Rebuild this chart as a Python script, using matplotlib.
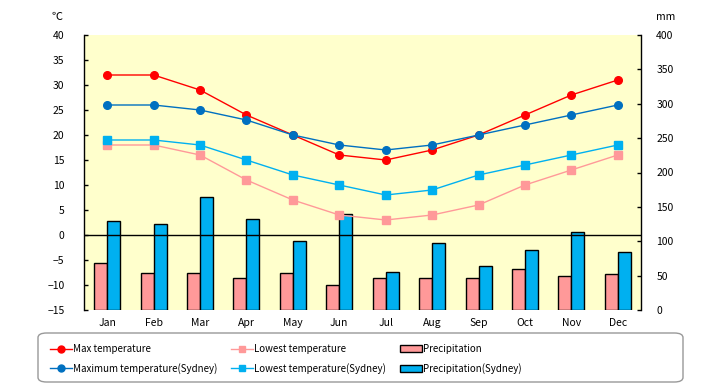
import numpy as np
import matplotlib as mpl
import matplotlib.pyplot as plt
from matplotlib.lines import Line2D
from matplotlib.patches import Patch, FancyBboxPatch

mpl.rcParams.update({
    "font.family": ["Noto Sans CJK JP", "DejaVu Sans"],
    "font.size": 7.5,
    "axes.unicode_minus": True,
})

# ===== DATA =====
months = ["Jan", "Feb", "Mar", "Apr", "May", "Jun",
          "Jul", "Aug", "Sep", "Oct", "Nov", "Dec"]
max_temp = [32, 32, 29, 24, 20, 16, 15, 17, 20, 24, 28, 31]
low_temp = [18, 18, 16, 11, 7, 4, 3, 4, 6, 10, 13, 16]
max_syd = [26, 26, 25, 23, 20, 18, 17, 18, 20, 22, 24, 26]
low_syd = [19, 19, 18, 15, 12, 10, 8, 9, 12, 14, 16, 18]
precip = [68, 54, 54, 47, 54, 37, 47, 47, 47, 59, 50, 52]
precip_syd = [130, 125, 164, 132, 100, 139, 55, 98, 64, 87, 114, 84]

# Colors
CLR_MAX = "#FF0000"
CLR_LOW = "#FF9999"
CLR_MAXS = "#0070C0"
CLR_LOWS = "#00B0F0"
BG = "#FFFFCC"

fig = plt.figure(figsize=(7.2, 3.85), dpi=100)
ax = fig.add_axes([84 / 720, 1 - 310 / 385, (641 - 84) / 720, (310 - 35) / 385])
ax2 = ax.twinx()

x = np.arange(len(months))
bw = 0.28

# precipitation bars on the right axis
ax2.bar(x - bw / 2, precip, bw, color=CLR_LOW, edgecolor="black", lw=1.0, zorder=2)
ax2.bar(x + bw / 2, precip_syd, bw, color=CLR_LOWS, edgecolor="black", lw=1.0, zorder=2)
ax2.set_ylim(0, 400)
ax2.set_yticks(np.arange(0, 401, 50))

# temperature lines on the left axis, drawn above the bars
ax.set_zorder(ax2.get_zorder() + 1)
ax.patch.set_visible(False)
ax2.patch.set_visible(True)
ax2.patch.set_facecolor(BG)

ax.axhline(0, color="black", lw=1.0, zorder=1)
ax.plot(x, max_temp, "o-", color=CLR_MAX, lw=1.0, ms=5.5, zorder=4)
ax.plot(x, max_syd, "o-", color=CLR_MAXS, lw=1.0, ms=5.5, zorder=4)
ax.plot(x, low_temp, "s-", color=CLR_LOW, lw=1.0, ms=5.5, zorder=3)
ax.plot(x, low_syd, "s-", color=CLR_LOWS, lw=1.0, ms=5.5, zorder=3)

ax.set_ylim(-15, 40)
ax.set_yticks(np.arange(-15, 41, 5))
ax.set_xlim(-0.5, len(months) - 0.5)
ax.set_xticks(x)
ax.set_xticklabels(months)

for a in (ax, ax2):
    for s in ("top", "bottom"):
        a.spines[s].set_visible(False)
    a.tick_params(axis="x", length=0, pad=6)
ax.tick_params(axis="y", direction="in", length=3, width=1, pad=14)
ax2.tick_params(axis="y", direction="in", length=3, width=1, pad=11)
ax.spines["left"].set_linewidth(1.0)
ax2.spines["right"].set_linewidth(1.0)
ax.spines["right"].set_visible(False)
ax2.spines["left"].set_visible(False)

fig.text(57 / 720, 1 - 17 / 385, "℃", ha="center", va="center", fontsize=8)
fig.text(666 / 720, 1 - 17 / 385, "mm", ha="center", va="center")

# legend frame
frame = FancyBboxPatch((38 / 720, 3 / 385), 645 / 720, 49 / 385,
                       boxstyle="round,pad=0,rounding_size=0.012",
                       transform=fig.transFigure, facecolor="white",
                       edgecolor="#999999", lw=1.0)
fig.patches.append(frame)

handles = [
    Line2D([], [], color=CLR_MAX, marker="o", ms=5, lw=1.0),
    Line2D([], [], color=CLR_MAXS, marker="o", ms=5, lw=1.0),
    Line2D([], [], color=CLR_LOW, marker="s", ms=5, lw=1.0),
    Line2D([], [], color=CLR_LOWS, marker="s", ms=5, lw=1.0),
    Patch(facecolor=CLR_LOW, edgecolor="black"),
    Patch(facecolor=CLR_LOWS, edgecolor="black"),
]
labels = ["Max temperature", "Maximum temperature(Sydney)",
          "Lowest temperature", "Lowest temperature(Sydney)",
          "Precipitation", "Precipitation(Sydney)"]
leg = fig.legend(handles, labels, ncol=3, loc="center left",
                 bbox_to_anchor=(42 / 720, 1 - 359 / 385),
                 frameon=False, fontsize=7, handlelength=2.3,
                 handletextpad=0.1, labelspacing=0.9, columnspacing=1.4,
                 borderpad=0.3)

plt.savefig("out.png", dpi=100)
